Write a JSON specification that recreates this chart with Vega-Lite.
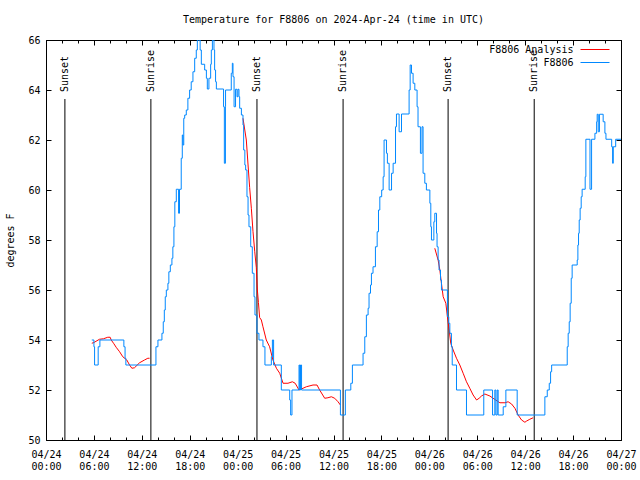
{
  "$schema": "https://vega.github.io/schema/vega-lite/v6.json",
  "width": 575,
  "height": 400,
  "autosize": "none",
  "padding": {"left": 46, "top": 40, "right": 19, "bottom": 40},
  "background": "white",
  "title": {"text": "Temperature for F8806 on 2024-Apr-24 (time in UTC)", "font": "DejaVu Sans Mono", "fontSize": 10, "fontWeight": "normal", "color": "black", "offset": 10},
  "config": {
    "view": {"stroke": "black", "strokeWidth": 1},
    "axis": {"labelFont": "DejaVu Sans Mono", "labelFontSize": 10, "labelColor": "black", "titleFont": "DejaVu Sans Mono", "titleFontSize": 10, "titleFontWeight": "normal", "titleColor": "black", "tickColor": "black", "tickWidth": 1, "grid": false, "domain": false}
  },
  "datasets": {
    "obs": [
      {"t": "2024-04-24T05:44:00Z", "v": 54.0, "series": "F8806"},
      {"t": "2024-04-24T06:00:00Z", "v": 53.73, "series": "F8806"},
      {"t": "2024-04-24T06:05:00Z", "v": 53.0, "series": "F8806"},
      {"t": "2024-04-24T06:32:00Z", "v": 53.73, "series": "F8806"},
      {"t": "2024-04-24T06:45:00Z", "v": 54.0, "series": "F8806"},
      {"t": "2024-04-24T09:45:00Z", "v": 53.73, "series": "F8806"},
      {"t": "2024-04-24T09:54:00Z", "v": 53.27, "series": "F8806"},
      {"t": "2024-04-24T10:00:00Z", "v": 53.0, "series": "F8806"},
      {"t": "2024-04-24T13:46:00Z", "v": 53.73, "series": "F8806"},
      {"t": "2024-04-24T14:01:00Z", "v": 54.0, "series": "F8806"},
      {"t": "2024-04-24T14:31:00Z", "v": 54.27, "series": "F8806"},
      {"t": "2024-04-24T14:41:00Z", "v": 54.73, "series": "F8806"},
      {"t": "2024-04-24T14:49:00Z", "v": 55.2, "series": "F8806"},
      {"t": "2024-04-24T14:56:00Z", "v": 55.73, "series": "F8806"},
      {"t": "2024-04-24T15:04:00Z", "v": 56.0, "series": "F8806"},
      {"t": "2024-04-24T15:16:00Z", "v": 56.27, "series": "F8806"},
      {"t": "2024-04-24T15:23:00Z", "v": 56.73, "series": "F8806"},
      {"t": "2024-04-24T15:34:00Z", "v": 57.0, "series": "F8806"},
      {"t": "2024-04-24T15:46:00Z", "v": 57.27, "series": "F8806"},
      {"t": "2024-04-24T15:53:00Z", "v": 57.73, "series": "F8806"},
      {"t": "2024-04-24T16:01:00Z", "v": 58.53, "series": "F8806"},
      {"t": "2024-04-24T16:08:00Z", "v": 59.53, "series": "F8806"},
      {"t": "2024-04-24T16:19:00Z", "v": 60.03, "series": "F8806"},
      {"t": "2024-04-24T16:36:00Z", "v": 59.07, "series": "F8806"},
      {"t": "2024-04-24T16:43:00Z", "v": 60.03, "series": "F8806"},
      {"t": "2024-04-24T16:56:00Z", "v": 61.27, "series": "F8806"},
      {"t": "2024-04-24T17:04:00Z", "v": 62.2, "series": "F8806"},
      {"t": "2024-04-24T17:09:00Z", "v": 61.8, "series": "F8806"},
      {"t": "2024-04-24T17:15:00Z", "v": 62.87, "series": "F8806"},
      {"t": "2024-04-24T17:22:00Z", "v": 63.0, "series": "F8806"},
      {"t": "2024-04-24T17:34:00Z", "v": 63.2, "series": "F8806"},
      {"t": "2024-04-24T17:46:00Z", "v": 63.67, "series": "F8806"},
      {"t": "2024-04-24T17:59:00Z", "v": 64.0, "series": "F8806"},
      {"t": "2024-04-24T18:11:00Z", "v": 64.33, "series": "F8806"},
      {"t": "2024-04-24T18:24:00Z", "v": 64.73, "series": "F8806"},
      {"t": "2024-04-24T18:37:00Z", "v": 65.27, "series": "F8806"},
      {"t": "2024-04-24T18:49:00Z", "v": 65.6, "series": "F8806"},
      {"t": "2024-04-24T18:57:00Z", "v": 66.0, "series": "F8806"},
      {"t": "2024-04-24T19:18:00Z", "v": 65.6, "series": "F8806"},
      {"t": "2024-04-24T19:27:00Z", "v": 65.03, "series": "F8806"},
      {"t": "2024-04-24T19:52:00Z", "v": 64.8, "series": "F8806"},
      {"t": "2024-04-24T20:05:00Z", "v": 64.47, "series": "F8806"},
      {"t": "2024-04-24T20:12:00Z", "v": 64.04, "series": "F8806"},
      {"t": "2024-04-24T20:24:00Z", "v": 64.47, "series": "F8806"},
      {"t": "2024-04-24T20:37:00Z", "v": 65.03, "series": "F8806"},
      {"t": "2024-04-24T20:42:00Z", "v": 65.6, "series": "F8806"},
      {"t": "2024-04-24T20:50:00Z", "v": 66.0, "series": "F8806"},
      {"t": "2024-04-24T21:02:00Z", "v": 65.6, "series": "F8806"},
      {"t": "2024-04-24T21:07:00Z", "v": 64.8, "series": "F8806"},
      {"t": "2024-04-24T21:14:00Z", "v": 64.33, "series": "F8806"},
      {"t": "2024-04-24T21:20:00Z", "v": 64.04, "series": "F8806"},
      {"t": "2024-04-24T22:14:00Z", "v": 63.33, "series": "F8806"},
      {"t": "2024-04-24T22:20:00Z", "v": 61.07, "series": "F8806"},
      {"t": "2024-04-24T22:28:00Z", "v": 63.33, "series": "F8806"},
      {"t": "2024-04-24T22:29:00Z", "v": 64.0, "series": "F8806"},
      {"t": "2024-04-24T23:12:00Z", "v": 64.67, "series": "F8806"},
      {"t": "2024-04-24T23:20:00Z", "v": 65.07, "series": "F8806"},
      {"t": "2024-04-24T23:25:00Z", "v": 64.53, "series": "F8806"},
      {"t": "2024-04-24T23:33:00Z", "v": 63.33, "series": "F8806"},
      {"t": "2024-04-24T23:44:00Z", "v": 64.03, "series": "F8806"},
      {"t": "2024-04-24T23:55:00Z", "v": 63.73, "series": "F8806"},
      {"t": "2024-04-25T00:02:00Z", "v": 64.03, "series": "F8806"},
      {"t": "2024-04-25T00:10:00Z", "v": 63.73, "series": "F8806"},
      {"t": "2024-04-25T00:15:00Z", "v": 63.27, "series": "F8806"},
      {"t": "2024-04-25T00:28:00Z", "v": 63.0, "series": "F8806"},
      {"t": "2024-04-25T00:40:00Z", "v": 62.6, "series": "F8806"},
      {"t": "2024-04-25T00:45:00Z", "v": 61.6, "series": "F8806"},
      {"t": "2024-04-25T00:54:00Z", "v": 61.0, "series": "F8806"},
      {"t": "2024-04-25T01:00:00Z", "v": 60.8, "series": "F8806"},
      {"t": "2024-04-25T01:10:00Z", "v": 59.73, "series": "F8806"},
      {"t": "2024-04-25T01:18:00Z", "v": 59.0, "series": "F8806"},
      {"t": "2024-04-25T01:25:00Z", "v": 58.53, "series": "F8806"},
      {"t": "2024-04-25T01:38:00Z", "v": 57.73, "series": "F8806"},
      {"t": "2024-04-25T01:50:00Z", "v": 56.67, "series": "F8806"},
      {"t": "2024-04-25T02:03:00Z", "v": 55.73, "series": "F8806"},
      {"t": "2024-04-25T02:10:00Z", "v": 55.0, "series": "F8806"},
      {"t": "2024-04-25T02:25:00Z", "v": 54.27, "series": "F8806"},
      {"t": "2024-04-25T02:40:00Z", "v": 54.0, "series": "F8806"},
      {"t": "2024-04-25T03:10:00Z", "v": 53.73, "series": "F8806"},
      {"t": "2024-04-25T03:25:00Z", "v": 53.0, "series": "F8806"},
      {"t": "2024-04-25T04:13:00Z", "v": 53.33, "series": "F8806"},
      {"t": "2024-04-25T04:21:00Z", "v": 54.0, "series": "F8806"},
      {"t": "2024-04-25T04:30:00Z", "v": 53.0, "series": "F8806"},
      {"t": "2024-04-25T05:28:00Z", "v": 52.0, "series": "F8806"},
      {"t": "2024-04-25T06:31:00Z", "v": 51.6, "series": "F8806"},
      {"t": "2024-04-25T06:38:00Z", "v": 51.0, "series": "F8806"},
      {"t": "2024-04-25T06:48:00Z", "v": 52.0, "series": "F8806"},
      {"t": "2024-04-25T07:41:00Z", "v": 53.0, "series": "F8806"},
      {"t": "2024-04-25T07:46:00Z", "v": 52.0, "series": "F8806"},
      {"t": "2024-04-25T07:52:00Z", "v": 53.0, "series": "F8806"},
      {"t": "2024-04-25T08:00:00Z", "v": 52.0, "series": "F8806"},
      {"t": "2024-04-25T12:52:00Z", "v": 51.0, "series": "F8806"},
      {"t": "2024-04-25T13:29:00Z", "v": 52.0, "series": "F8806"},
      {"t": "2024-04-25T14:10:00Z", "v": 52.27, "series": "F8806"},
      {"t": "2024-04-25T14:22:00Z", "v": 53.0, "series": "F8806"},
      {"t": "2024-04-25T15:42:00Z", "v": 53.47, "series": "F8806"},
      {"t": "2024-04-25T15:55:00Z", "v": 54.13, "series": "F8806"},
      {"t": "2024-04-25T16:07:00Z", "v": 55.0, "series": "F8806"},
      {"t": "2024-04-25T16:20:00Z", "v": 55.27, "series": "F8806"},
      {"t": "2024-04-25T16:27:00Z", "v": 55.87, "series": "F8806"},
      {"t": "2024-04-25T16:38:00Z", "v": 56.2, "series": "F8806"},
      {"t": "2024-04-25T16:45:00Z", "v": 56.67, "series": "F8806"},
      {"t": "2024-04-25T16:57:00Z", "v": 56.93, "series": "F8806"},
      {"t": "2024-04-25T17:15:00Z", "v": 57.73, "series": "F8806"},
      {"t": "2024-04-25T17:28:00Z", "v": 58.33, "series": "F8806"},
      {"t": "2024-04-25T17:38:00Z", "v": 59.2, "series": "F8806"},
      {"t": "2024-04-25T17:48:00Z", "v": 59.73, "series": "F8806"},
      {"t": "2024-04-25T18:02:00Z", "v": 60.0, "series": "F8806"},
      {"t": "2024-04-25T18:13:00Z", "v": 60.53, "series": "F8806"},
      {"t": "2024-04-25T18:20:00Z", "v": 62.0, "series": "F8806"},
      {"t": "2024-04-25T18:38:00Z", "v": 61.47, "series": "F8806"},
      {"t": "2024-04-25T18:45:00Z", "v": 61.07, "series": "F8806"},
      {"t": "2024-04-25T18:58:00Z", "v": 60.0, "series": "F8806"},
      {"t": "2024-04-25T19:16:00Z", "v": 60.67, "series": "F8806"},
      {"t": "2024-04-25T19:28:00Z", "v": 61.07, "series": "F8806"},
      {"t": "2024-04-25T19:46:00Z", "v": 62.53, "series": "F8806"},
      {"t": "2024-04-25T19:53:00Z", "v": 63.04, "series": "F8806"},
      {"t": "2024-04-25T20:13:00Z", "v": 62.33, "series": "F8806"},
      {"t": "2024-04-25T20:31:00Z", "v": 63.04, "series": "F8806"},
      {"t": "2024-04-25T21:28:00Z", "v": 64.0, "series": "F8806"},
      {"t": "2024-04-25T21:36:00Z", "v": 65.0, "series": "F8806"},
      {"t": "2024-04-25T21:46:00Z", "v": 64.67, "series": "F8806"},
      {"t": "2024-04-25T21:58:00Z", "v": 64.27, "series": "F8806"},
      {"t": "2024-04-25T22:11:00Z", "v": 64.0, "series": "F8806"},
      {"t": "2024-04-25T22:28:00Z", "v": 63.33, "series": "F8806"},
      {"t": "2024-04-25T22:35:00Z", "v": 62.53, "series": "F8806"},
      {"t": "2024-04-25T22:53:00Z", "v": 61.47, "series": "F8806"},
      {"t": "2024-04-25T23:05:00Z", "v": 62.53, "series": "F8806"},
      {"t": "2024-04-25T23:13:00Z", "v": 60.67, "series": "F8806"},
      {"t": "2024-04-25T23:26:00Z", "v": 60.27, "series": "F8806"},
      {"t": "2024-04-25T23:38:00Z", "v": 60.0, "series": "F8806"},
      {"t": "2024-04-26T00:04:00Z", "v": 59.47, "series": "F8806"},
      {"t": "2024-04-26T00:11:00Z", "v": 58.53, "series": "F8806"},
      {"t": "2024-04-26T00:16:00Z", "v": 58.0, "series": "F8806"},
      {"t": "2024-04-26T00:34:00Z", "v": 58.73, "series": "F8806"},
      {"t": "2024-04-26T00:41:00Z", "v": 59.07, "series": "F8806"},
      {"t": "2024-04-26T00:54:00Z", "v": 58.27, "series": "F8806"},
      {"t": "2024-04-26T00:58:00Z", "v": 57.73, "series": "F8806"},
      {"t": "2024-04-26T01:06:00Z", "v": 57.2, "series": "F8806"},
      {"t": "2024-04-26T01:13:00Z", "v": 56.8, "series": "F8806"},
      {"t": "2024-04-26T01:24:00Z", "v": 56.4, "series": "F8806"},
      {"t": "2024-04-26T01:31:00Z", "v": 56.0, "series": "F8806"},
      {"t": "2024-04-26T02:16:00Z", "v": 54.93, "series": "F8806"},
      {"t": "2024-04-26T02:26:00Z", "v": 54.67, "series": "F8806"},
      {"t": "2024-04-26T02:34:00Z", "v": 54.27, "series": "F8806"},
      {"t": "2024-04-26T02:46:00Z", "v": 53.73, "series": "F8806"},
      {"t": "2024-04-26T02:52:00Z", "v": 53.0, "series": "F8806"},
      {"t": "2024-04-26T03:24:00Z", "v": 52.0, "series": "F8806"},
      {"t": "2024-04-26T04:39:00Z", "v": 51.0, "series": "F8806"},
      {"t": "2024-04-26T06:49:00Z", "v": 52.0, "series": "F8806"},
      {"t": "2024-04-26T07:55:00Z", "v": 51.0, "series": "F8806"},
      {"t": "2024-04-26T08:12:00Z", "v": 52.0, "series": "F8806"},
      {"t": "2024-04-26T08:20:00Z", "v": 51.0, "series": "F8806"},
      {"t": "2024-04-26T08:30:00Z", "v": 52.0, "series": "F8806"},
      {"t": "2024-04-26T08:37:00Z", "v": 51.0, "series": "F8806"},
      {"t": "2024-04-26T09:15:00Z", "v": 51.33, "series": "F8806"},
      {"t": "2024-04-26T09:35:00Z", "v": 52.0, "series": "F8806"},
      {"t": "2024-04-26T11:00:00Z", "v": 51.0, "series": "F8806"},
      {"t": "2024-04-26T14:28:00Z", "v": 51.73, "series": "F8806"},
      {"t": "2024-04-26T14:46:00Z", "v": 52.0, "series": "F8806"},
      {"t": "2024-04-26T15:01:00Z", "v": 52.27, "series": "F8806"},
      {"t": "2024-04-26T15:11:00Z", "v": 52.73, "series": "F8806"},
      {"t": "2024-04-26T15:19:00Z", "v": 53.0, "series": "F8806"},
      {"t": "2024-04-26T17:16:00Z", "v": 53.73, "series": "F8806"},
      {"t": "2024-04-26T17:23:00Z", "v": 54.27, "series": "F8806"},
      {"t": "2024-04-26T17:31:00Z", "v": 54.73, "series": "F8806"},
      {"t": "2024-04-26T17:38:00Z", "v": 55.47, "series": "F8806"},
      {"t": "2024-04-26T17:46:00Z", "v": 56.47, "series": "F8806"},
      {"t": "2024-04-26T17:53:00Z", "v": 57.0, "series": "F8806"},
      {"t": "2024-04-26T18:31:00Z", "v": 57.2, "series": "F8806"},
      {"t": "2024-04-26T18:36:00Z", "v": 57.8, "series": "F8806"},
      {"t": "2024-04-26T18:41:00Z", "v": 58.27, "series": "F8806"},
      {"t": "2024-04-26T18:46:00Z", "v": 58.8, "series": "F8806"},
      {"t": "2024-04-26T18:53:00Z", "v": 59.27, "series": "F8806"},
      {"t": "2024-04-26T19:01:00Z", "v": 59.73, "series": "F8806"},
      {"t": "2024-04-26T19:08:00Z", "v": 60.03, "series": "F8806"},
      {"t": "2024-04-26T19:31:00Z", "v": 60.53, "series": "F8806"},
      {"t": "2024-04-26T19:36:00Z", "v": 62.03, "series": "F8806"},
      {"t": "2024-04-26T20:07:00Z", "v": 60.03, "series": "F8806"},
      {"t": "2024-04-26T20:19:00Z", "v": 62.03, "series": "F8806"},
      {"t": "2024-04-26T20:44:00Z", "v": 62.27, "series": "F8806"},
      {"t": "2024-04-26T20:57:00Z", "v": 62.73, "series": "F8806"},
      {"t": "2024-04-26T21:01:00Z", "v": 63.03, "series": "F8806"},
      {"t": "2024-04-26T21:09:00Z", "v": 62.33, "series": "F8806"},
      {"t": "2024-04-26T21:18:00Z", "v": 63.03, "series": "F8806"},
      {"t": "2024-04-26T21:46:00Z", "v": 62.73, "series": "F8806"},
      {"t": "2024-04-26T21:59:00Z", "v": 62.27, "series": "F8806"},
      {"t": "2024-04-26T22:07:00Z", "v": 62.03, "series": "F8806"},
      {"t": "2024-04-26T22:50:00Z", "v": 61.73, "series": "F8806"},
      {"t": "2024-04-26T22:57:00Z", "v": 61.07, "series": "F8806"},
      {"t": "2024-04-26T23:02:00Z", "v": 61.73, "series": "F8806"},
      {"t": "2024-04-26T23:20:00Z", "v": 62.03, "series": "F8806"},
      {"t": "2024-04-27T00:00:00Z", "v": 62.03, "series": "F8806"}
    ],
    "analysis": [
      {"t": "2024-04-24T05:44:00Z", "v": 53.87, "series": "F8806 Analysis", "seg": "a"},
      {"t": "2024-04-24T06:00:00Z", "v": 53.9, "series": "F8806 Analysis", "seg": "a"},
      {"t": "2024-04-24T06:42:00Z", "v": 54.03, "series": "F8806 Analysis", "seg": "a"},
      {"t": "2024-04-24T07:12:00Z", "v": 54.05, "series": "F8806 Analysis", "seg": "a"},
      {"t": "2024-04-24T07:44:00Z", "v": 54.11, "series": "F8806 Analysis", "seg": "a"},
      {"t": "2024-04-24T08:02:00Z", "v": 54.11, "series": "F8806 Analysis", "seg": "a"},
      {"t": "2024-04-24T08:10:00Z", "v": 54.0, "series": "F8806 Analysis", "seg": "a"},
      {"t": "2024-04-24T08:30:00Z", "v": 53.85, "series": "F8806 Analysis", "seg": "a"},
      {"t": "2024-04-24T08:47:00Z", "v": 53.71, "series": "F8806 Analysis", "seg": "a"},
      {"t": "2024-04-24T09:13:00Z", "v": 53.53, "series": "F8806 Analysis", "seg": "a"},
      {"t": "2024-04-24T09:37:00Z", "v": 53.33, "series": "F8806 Analysis", "seg": "a"},
      {"t": "2024-04-24T10:07:00Z", "v": 53.2, "series": "F8806 Analysis", "seg": "a"},
      {"t": "2024-04-24T10:28:00Z", "v": 53.0, "series": "F8806 Analysis", "seg": "a"},
      {"t": "2024-04-24T10:45:00Z", "v": 52.87, "series": "F8806 Analysis", "seg": "a"},
      {"t": "2024-04-24T11:05:00Z", "v": 52.89, "series": "F8806 Analysis", "seg": "a"},
      {"t": "2024-04-24T11:43:00Z", "v": 53.09, "series": "F8806 Analysis", "seg": "a"},
      {"t": "2024-04-24T12:20:00Z", "v": 53.2, "series": "F8806 Analysis", "seg": "a"},
      {"t": "2024-04-24T12:45:00Z", "v": 53.27, "series": "F8806 Analysis", "seg": "a"},
      {"t": "2024-04-24T12:58:00Z", "v": 53.27, "series": "F8806 Analysis", "seg": "a"},
      {"t": "2024-04-25T00:40:00Z", "v": 62.87, "series": "F8806 Analysis", "seg": "b"},
      {"t": "2024-04-25T01:05:00Z", "v": 62.0, "series": "F8806 Analysis", "seg": "b"},
      {"t": "2024-04-25T01:18:00Z", "v": 61.0, "series": "F8806 Analysis", "seg": "b"},
      {"t": "2024-04-25T01:30:00Z", "v": 60.1, "series": "F8806 Analysis", "seg": "b"},
      {"t": "2024-04-25T01:43:00Z", "v": 59.25, "series": "F8806 Analysis", "seg": "b"},
      {"t": "2024-04-25T01:55:00Z", "v": 58.35, "series": "F8806 Analysis", "seg": "b"},
      {"t": "2024-04-25T02:08:00Z", "v": 57.55, "series": "F8806 Analysis", "seg": "b"},
      {"t": "2024-04-25T02:20:00Z", "v": 56.9, "series": "F8806 Analysis", "seg": "b"},
      {"t": "2024-04-25T02:28:00Z", "v": 56.0, "series": "F8806 Analysis", "seg": "b"},
      {"t": "2024-04-25T02:36:00Z", "v": 55.5, "series": "F8806 Analysis", "seg": "b"},
      {"t": "2024-04-25T02:45:00Z", "v": 54.9, "series": "F8806 Analysis", "seg": "b"},
      {"t": "2024-04-25T02:58:00Z", "v": 54.8, "series": "F8806 Analysis", "seg": "b"},
      {"t": "2024-04-25T03:10:00Z", "v": 54.53, "series": "F8806 Analysis", "seg": "b"},
      {"t": "2024-04-25T03:35:00Z", "v": 54.0, "series": "F8806 Analysis", "seg": "b"},
      {"t": "2024-04-25T04:00:00Z", "v": 53.73, "series": "F8806 Analysis", "seg": "b"},
      {"t": "2024-04-25T04:25:00Z", "v": 53.2, "series": "F8806 Analysis", "seg": "b"},
      {"t": "2024-04-25T04:51:00Z", "v": 52.87, "series": "F8806 Analysis", "seg": "b"},
      {"t": "2024-04-25T05:16:00Z", "v": 52.67, "series": "F8806 Analysis", "seg": "b"},
      {"t": "2024-04-25T05:41:00Z", "v": 52.27, "series": "F8806 Analysis", "seg": "b"},
      {"t": "2024-04-25T06:18:00Z", "v": 52.27, "series": "F8806 Analysis", "seg": "b"},
      {"t": "2024-04-25T06:51:00Z", "v": 52.33, "series": "F8806 Analysis", "seg": "b"},
      {"t": "2024-04-25T07:12:00Z", "v": 52.27, "series": "F8806 Analysis", "seg": "b"},
      {"t": "2024-04-25T07:41:00Z", "v": 52.0, "series": "F8806 Analysis", "seg": "b"},
      {"t": "2024-04-25T08:11:00Z", "v": 52.07, "series": "F8806 Analysis", "seg": "b"},
      {"t": "2024-04-25T08:36:00Z", "v": 52.13, "series": "F8806 Analysis", "seg": "b"},
      {"t": "2024-04-25T09:26:00Z", "v": 52.2, "series": "F8806 Analysis", "seg": "b"},
      {"t": "2024-04-25T09:56:00Z", "v": 52.2, "series": "F8806 Analysis", "seg": "b"},
      {"t": "2024-04-25T10:16:00Z", "v": 52.0, "series": "F8806 Analysis", "seg": "b"},
      {"t": "2024-04-25T10:54:00Z", "v": 51.67, "series": "F8806 Analysis", "seg": "b"},
      {"t": "2024-04-25T11:18:00Z", "v": 51.69, "series": "F8806 Analysis", "seg": "b"},
      {"t": "2024-04-25T11:44:00Z", "v": 51.73, "series": "F8806 Analysis", "seg": "b"},
      {"t": "2024-04-25T12:09:00Z", "v": 51.67, "series": "F8806 Analysis", "seg": "b"},
      {"t": "2024-04-25T12:34:00Z", "v": 51.53, "series": "F8806 Analysis", "seg": "b"},
      {"t": "2024-04-25T12:52:00Z", "v": 51.4, "series": "F8806 Analysis", "seg": "b"},
      {"t": "2024-04-26T00:41:00Z", "v": 57.67, "series": "F8806 Analysis", "seg": "c"},
      {"t": "2024-04-26T01:06:00Z", "v": 57.2, "series": "F8806 Analysis", "seg": "c"},
      {"t": "2024-04-26T01:19:00Z", "v": 56.8, "series": "F8806 Analysis", "seg": "c"},
      {"t": "2024-04-26T01:31:00Z", "v": 56.27, "series": "F8806 Analysis", "seg": "c"},
      {"t": "2024-04-26T01:44:00Z", "v": 55.73, "series": "F8806 Analysis", "seg": "c"},
      {"t": "2024-04-26T02:04:00Z", "v": 55.47, "series": "F8806 Analysis", "seg": "c"},
      {"t": "2024-04-26T02:16:00Z", "v": 54.93, "series": "F8806 Analysis", "seg": "c"},
      {"t": "2024-04-26T02:29:00Z", "v": 54.4, "series": "F8806 Analysis", "seg": "c"},
      {"t": "2024-04-26T02:41:00Z", "v": 53.87, "series": "F8806 Analysis", "seg": "c"},
      {"t": "2024-04-26T02:59:00Z", "v": 53.6, "series": "F8806 Analysis", "seg": "c"},
      {"t": "2024-04-26T03:24:00Z", "v": 53.27, "series": "F8806 Analysis", "seg": "c"},
      {"t": "2024-04-26T03:49:00Z", "v": 53.0, "series": "F8806 Analysis", "seg": "c"},
      {"t": "2024-04-26T04:14:00Z", "v": 52.67, "series": "F8806 Analysis", "seg": "c"},
      {"t": "2024-04-26T04:39:00Z", "v": 52.33, "series": "F8806 Analysis", "seg": "c"},
      {"t": "2024-04-26T05:04:00Z", "v": 52.07, "series": "F8806 Analysis", "seg": "c"},
      {"t": "2024-04-26T05:29:00Z", "v": 51.8, "series": "F8806 Analysis", "seg": "c"},
      {"t": "2024-04-26T05:55:00Z", "v": 51.6, "series": "F8806 Analysis", "seg": "c"},
      {"t": "2024-04-26T06:14:00Z", "v": 51.67, "series": "F8806 Analysis", "seg": "c"},
      {"t": "2024-04-26T06:32:00Z", "v": 51.76, "series": "F8806 Analysis", "seg": "c"},
      {"t": "2024-04-26T06:57:00Z", "v": 51.84, "series": "F8806 Analysis", "seg": "c"},
      {"t": "2024-04-26T07:35:00Z", "v": 51.76, "series": "F8806 Analysis", "seg": "c"},
      {"t": "2024-04-26T07:59:00Z", "v": 51.67, "series": "F8806 Analysis", "seg": "c"},
      {"t": "2024-04-26T08:50:00Z", "v": 51.49, "series": "F8806 Analysis", "seg": "c"},
      {"t": "2024-04-26T09:28:00Z", "v": 51.49, "series": "F8806 Analysis", "seg": "c"},
      {"t": "2024-04-26T09:52:00Z", "v": 51.53, "series": "F8806 Analysis", "seg": "c"},
      {"t": "2024-04-26T10:18:00Z", "v": 51.44, "series": "F8806 Analysis", "seg": "c"},
      {"t": "2024-04-26T10:43:00Z", "v": 51.27, "series": "F8806 Analysis", "seg": "c"},
      {"t": "2024-04-26T11:07:00Z", "v": 51.0, "series": "F8806 Analysis", "seg": "c"},
      {"t": "2024-04-26T11:33:00Z", "v": 50.8, "series": "F8806 Analysis", "seg": "c"},
      {"t": "2024-04-26T11:58:00Z", "v": 50.71, "series": "F8806 Analysis", "seg": "c"},
      {"t": "2024-04-26T12:11:00Z", "v": 50.76, "series": "F8806 Analysis", "seg": "c"},
      {"t": "2024-04-26T12:35:00Z", "v": 50.83, "series": "F8806 Analysis", "seg": "c"},
      {"t": "2024-04-26T13:00:00Z", "v": 50.89, "series": "F8806 Analysis", "seg": "c"}
    ],
    "sun": [
      {"t": "2024-04-24T02:22:00Z", "label": "Sunset"},
      {"t": "2024-04-24T13:08:00Z", "label": "Sunrise"},
      {"t": "2024-04-25T02:25:00Z", "label": "Sunset"},
      {"t": "2024-04-25T13:12:00Z", "label": "Sunrise"},
      {"t": "2024-04-26T02:21:00Z", "label": "Sunset"},
      {"t": "2024-04-26T13:08:00Z", "label": "Sunrise"}
    ]
  },
  "layer": [
    {
      "data": {"name": "sun"},
      "mark": {"type": "rule", "color": "black", "strokeWidth": 1},
      "encoding": {
        "x": {"field": "t", "type": "temporal", "scale": {"type": "utc", "domain": [1713916800000, 1714176000000]}, "axis": {"orient": "bottom", "values": [1713916800000, 1713924000000, 1713931200000, 1713938400000, 1713945600000, 1713952800000, 1713960000000, 1713967200000, 1713974400000, 1713981600000, 1713988800000, 1713996000000, 1714003200000, 1714010400000, 1714017600000, 1714024800000, 1714032000000, 1714039200000, 1714046400000, 1714053600000, 1714060800000, 1714068000000, 1714075200000, 1714082400000, 1714089600000, 1714096800000, 1714104000000, 1714111200000, 1714118400000, 1714125600000, 1714132800000, 1714140000000, 1714147200000, 1714154400000, 1714161600000, 1714168800000, 1714176000000], "tickSize": -3, "labels": false, "title": null}},
        "y": {"datum": 50, "type": "quantitative", "scale": {"domain": [50, 66]}, "axis": null},
        "y2": {"datum": 63.64}
      }
    },
    {
      "data": {"name": "sun"},
      "mark": {"type": "text", "angle": 270, "align": "left", "baseline": "middle", "font": "DejaVu Sans Mono", "fontSize": 10, "color": "black"},
      "encoding": {
        "x": {"field": "t", "type": "temporal", "axis": {"orient": "top", "values": [1713916800000, 1713924000000, 1713931200000, 1713938400000, 1713945600000, 1713952800000, 1713960000000, 1713967200000, 1713974400000, 1713981600000, 1713988800000, 1713996000000, 1714003200000, 1714010400000, 1714017600000, 1714024800000, 1714032000000, 1714039200000, 1714046400000, 1714053600000, 1714060800000, 1714068000000, 1714075200000, 1714082400000, 1714089600000, 1714096800000, 1714104000000, 1714111200000, 1714118400000, 1714125600000, 1714132800000, 1714140000000, 1714147200000, 1714154400000, 1714161600000, 1714168800000, 1714176000000], "tickSize": -3, "labels": false, "title": null}},
        "y": {"datum": 63.92, "type": "quantitative", "axis": null},
        "text": {"field": "label"}
      }
    },
    {
      "data": {"name": "analysis"},
      "mark": {"type": "line", "strokeWidth": 1, "clip": true},
      "encoding": {
        "x": {"field": "t", "type": "temporal", "axis": {"orient": "bottom", "title": null, "tickSize": -5, "labelPadding": 14, "labelLineHeight": 12, "labelOverlap": false, "labelFlush": false, "labelBound": false,
          "values": [1713916800000, 1713938400000, 1713960000000, 1713981600000, 1714003200000, 1714024800000, 1714046400000, 1714068000000, 1714089600000, 1714111200000, 1714132800000, 1714154400000, 1714176000000],
          "labelExpr": "[utcFormat(datum.value, '%m/%d'), utcFormat(datum.value, '%H:%M')]"}},
        "y": {"field": "v", "type": "quantitative", "axis": {"orient": "left", "values": [50, 52, 54, 56, 58, 60, 62, 64, 66], "tickSize": -5, "labelPadding": 11, "title": "degrees F", "titlePadding": 12}},
        "stroke": {"field": "series", "type": "nominal", "scale": {"domain": ["F8806 Analysis"], "range": ["#ff0000"]},
          "legend": {"title": null, "orient": "none", "legendX": 535, "legendY": 4, "symbolType": "M-2.9,0H2.9", "symbolSize": 100, "symbolStrokeWidth": 1, "symbolStrokeColor": "#ff0000", "symbolFillColor": "transparent", "symbolOffset": 8.5, "labelAlign": "right", "labelOffset": -27, "padding": 0, "labelFont": "DejaVu Sans Mono", "labelFontSize": 10, "labelColor": "black", "labelLimit": 0,
            "encode": {"symbols": {"update": {"stroke": {"value": "#ff0000"}, "fill": {"value": "transparent"}, "strokeWidth": {"value": 1}}}}}},
        "detail": {"field": "seg"}
      }
    },
    {
      "data": {"name": "obs"},
      "mark": {"type": "line", "strokeWidth": 1, "interpolate": "step-after", "clip": true},
      "encoding": {
        "x": {"field": "t", "type": "temporal", "axis": {"orient": "top", "title": null, "tickSize": -5, "labels": false,
          "values": [1713916800000, 1713938400000, 1713960000000, 1713981600000, 1714003200000, 1714024800000, 1714046400000, 1714068000000, 1714089600000, 1714111200000, 1714132800000, 1714154400000, 1714176000000]}},
        "y": {"field": "v", "type": "quantitative", "axis": {"orient": "right", "values": [50, 52, 54, 56, 58, 60, 62, 64, 66], "tickSize": -5, "labels": false, "title": null}},
        "color": {"field": "series", "type": "nominal", "scale": {"domain": ["F8806"], "range": ["#0088ff"]},
          "legend": {"title": null, "orient": "none", "legendX": 535, "legendY": 17, "symbolType": "M-2.9,0H2.9", "symbolSize": 100, "symbolStrokeWidth": 1, "symbolStrokeColor": "#0088ff", "symbolFillColor": "transparent", "symbolOffset": 8.5, "labelAlign": "right", "labelOffset": -27, "padding": 0, "labelFont": "DejaVu Sans Mono", "labelFontSize": 10, "labelColor": "black", "labelLimit": 0,
            "encode": {"symbols": {"update": {"stroke": {"value": "#0088ff"}, "fill": {"value": "transparent"}, "strokeWidth": {"value": 1}}}}}}
      }
    }
  ],
  "resolve": {"axis": {"x": "independent", "y": "independent"}}
}
